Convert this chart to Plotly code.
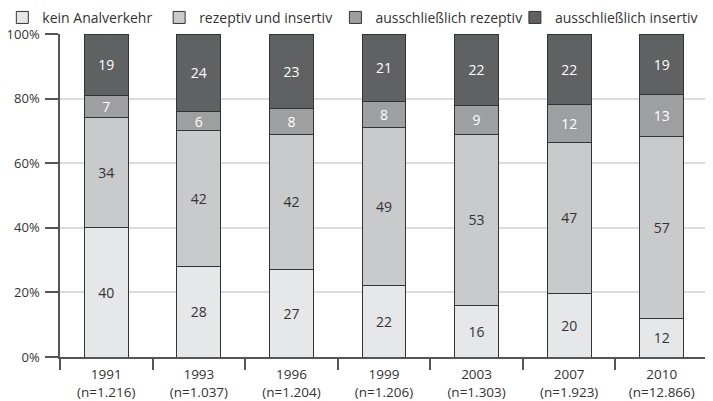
import plotly.graph_objects as go

years = ["1991", "1993", "1996", "1999", "2003", "2007", "2010"]
sizes = ["1.216", "1.037", "1.204", "1.206", "1.303", "1.923", "12.866"]
series_names = ["kein Analverkehr", "rezeptiv und insertiv",
                "ausschließlich rezeptiv", "ausschließlich insertiv"]
kein = [40, 28, 27, 22, 16, 20, 12]
rez_ins = [34, 42, 42, 49, 53, 47, 57]
nur_rez = [7, 6, 8, 8, 9, 12, 13]
nur_ins = [19, 24, 23, 21, 22, 22, 19]
y_ticks = [0, 20, 40, 60, 80, 100]

values = [kein, rez_ins, nur_rez, nur_ins]
fills = ["#e6e7e8", "#c9cacb", "#9e9fa0", "#606163"]
text_cols = ["#333333", "#333333", "#ffffff", "#ffffff"]
legend_ids = ["legend", "legend2", "legend3", "legend4"]
legend_x = [-0.089, 0.153, 0.425, 0.702]

cats = [f"{y}<br>(n={n})" for y, n in zip(years, sizes)]
FONT = "Open Sans"

fig = go.Figure()
for name, vals, fc, tc, lid in zip(series_names, values, fills, text_cols, legend_ids):
    fig.add_trace(go.Bar(
        x=cats, y=vals, name=name, legend=lid, showlegend=True,
        marker=dict(color=fc, line=dict(color="#333333", width=1)),
        text=[str(v) for v in vals], textposition="inside",
        insidetextanchor="middle", textangle=0,
        textfont=dict(color=tc, size=14, family=FONT),
        width=0.475,
    ))

leg_common = dict(orientation="h", xanchor="left", yanchor="middle", y=1.05,
                  font=dict(size=14, color="#333333", family=FONT),
                  bgcolor="rgba(0,0,0,0)")
legends = {}
for lid, lx in zip(legend_ids, legend_x):
    legends[lid] = dict(leg_common, x=lx)

# page body has an 8px margin, so the figure is drawn 8px smaller and shifted
fig.update_layout(
    barmode="stack", barnorm="percent",
    width=705, height=393, showlegend=True,
    margin=dict(l=52, r=5, t=26, b=44, autoexpand=False),
    paper_bgcolor="white", plot_bgcolor="white",
    font=dict(family=FONT, size=13, color="#333333"),
    xaxis=dict(type="category", showgrid=False, showline=True, linecolor="#555555",
               linewidth=1.5, ticks="outside", tickson="boundaries", ticklen=11,
               tickwidth=1.5, tickcolor="#555555", ticklabelstandoff=4,
               tickfont=dict(size=13.5, color="#333333")),
    yaxis=dict(range=[0, 100], tickvals=y_ticks, ticktext=[f"{t}%" for t in y_ticks],
               showgrid=True, gridcolor="#dcdcdc", gridwidth=1.8, showline=True,
               linecolor="#555555", linewidth=1.5, ticks="outside", ticklen=13,
               tickwidth=1.5, tickcolor="#555555", zeroline=False,
               ticklabelstandoff=3,
               tickfont=dict(size=13, color="#333333")),
    shapes=[dict(type="line", xref="paper", yref="paper", x0=1, x1=1, y0=0, y1=1,
                 line=dict(color="#dcdcdc", width=1.5))],
    **legends,
)
fig.update_layout(uniformtext=dict(minsize=14, mode="show"))
fig.update_traces(constraintext="none")

fig.write_html("out.html")
